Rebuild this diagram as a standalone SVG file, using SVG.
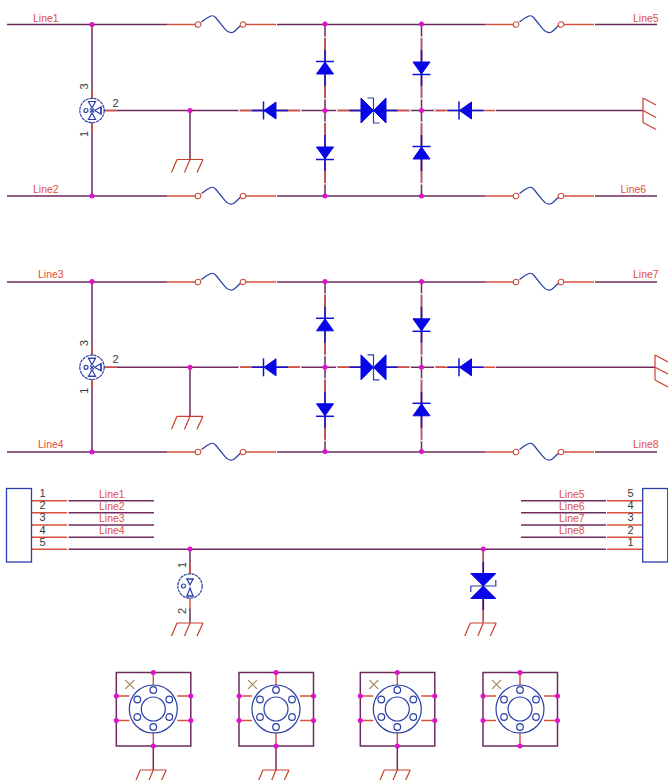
<svg xmlns="http://www.w3.org/2000/svg" xmlns:xlink="http://www.w3.org/1999/xlink" width="668" height="780" viewBox="0 0 668 780">
<style>
.w{fill:none;stroke:#6e2a5c;stroke-width:1.5}
.r{fill:none;stroke:#d8503c;stroke-width:1.4}
.b{fill:none;stroke:#2a3ea8;stroke-width:1.2}
.m{fill:#fff;stroke:#2a3ea8;stroke-width:1.2}
.bb{fill:none;stroke:#0a14d8;stroke-width:1.5}
.f{fill:#0606e6;stroke:#0606e6;stroke-width:1}
.g{fill:none;stroke:#c8402c;stroke-width:1.2}
.o{fill:#fff;stroke:#c8503c;stroke-width:1.1}
.k{fill:none;stroke:#fff;stroke-width:1.6}
.j{fill:#e010d0}
.t{font-family:"Liberation Sans",Arial,sans-serif;font-size:10.500px;fill:#e0503e}
.n{font-family:"Liberation Sans",Arial,sans-serif;font-size:11px;fill:#3a3a3a}
.x{fill:none;stroke:#a88e64;stroke-width:1.100}
</style>
<defs>
<g id="da"><path class="r" d="M0-30V30"/><path class="k" d="M0-31.500V-30M0 30V31.500"/><path class="bb" d="M0-18V18"/><path class="f" d="M-8.500 6H8.500L0-6Z"/><path class="bb" d="M-9-6.500H9"/></g>
<g id="gh"><path class="g" d="M-13 0H13M-13 0L-18.500 13M0 0L-5.500 13M13 0L7 13"/></g>
<g id="fuse"><path class="r" d="M0 0H28M79 0H109"/><circle class="o" cx="31" cy="0" r="2.800"/><circle class="o" cx="76" cy="0" r="2.800"/><path class="b" d="M34.500-2.500Q40-7 44-8.500Q46.500-9.500 49-6.500L58 4.500Q61 8.500 65 8Q67 8 73 1.500"/></g>
<g id="rail">
<path class="w" d="M7 0H167M277 0H485M595 0H657"/>
<use xlink:href="#fuse" x="167" y="0"/><use xlink:href="#fuse" x="485" y="0"/>
</g>
<g id="mov"><circle class="m" r="12.200" stroke-dasharray="3.200 .7"/><path class="b" d="M-3.500-9H3.500L0-2.500ZM-3.500 9H3.500L0 2.500ZM9-3.500V3.500L2.500 0Z"/><path class="b" d="M-4 -9H4M-4 9H4M9-4V4"/><circle class="b" cx="-6" r="2"/><path class="b" d="M-2-2L2 2M2-2L-2 2"/></g>
<g id="mov2"><circle class="m" r="12.200" stroke-dasharray="3.200 .7"/><path class="b" d="M-3-7H3L0-1ZM-3 10H3L0 2Z"/><path class="b" d="M-4-7H4M-4 10H4"/><circle class="b" cx="-6.500" r="2"/></g>
<g id="tvs"><path class="r" d="M-36 0H36"/><path class="k" d="M-37.500 0H-36M36 0H37.500"/><path class="bb" d="M-24 0H24"/><path class="f" d="M-12.500-12.500V12.500L0 0ZM12.500-12.500V12.500L0 0Z"/><path class="b" d="M-6-12.500H0V12.500H6"/></g>
<g id="core">
<path class="w" d="M104 0H445M190 0V49"/>
<path class="r" d="M104 0H117"/>
<use xlink:href="#mov" x="92" y="0"/>
<use xlink:href="#da" transform="translate(325 -42.500)"/>
<use xlink:href="#da" transform="translate(325 42.500) rotate(180)"/>
<use xlink:href="#da" transform="translate(421.500 -42.500) rotate(180)"/>
<use xlink:href="#da" transform="translate(421.500 42.500)"/>
<use xlink:href="#da" transform="translate(270 0) rotate(-90)"/>
<use xlink:href="#da" transform="translate(465.500 0) rotate(-90)"/>
<use xlink:href="#tvs" x="373.500" y="0"/>
<use xlink:href="#gh" x="190" y="49"/>
<g class="j"><circle cx="190" cy="0" r="2.500"/><circle cx="325" cy="0" r="2.500"/><circle cx="421.500" cy="0" r="2.500"/></g>
<text class="n" x="112.500" y="-4">2</text>
<text class="n" transform="translate(88 -24) rotate(-90)" text-anchor="middle">3</text>
<text class="n" transform="translate(88 23.500) rotate(-90)" text-anchor="middle">1</text>
</g>
<g id="pad">
<path class="w" d="M-37-36.500H37.500V37H-37Z"/>
<path class="r" d="M0-36.500V-24M0 23V37M-37-13H-24M24-13H37.500M-37 11.500H-24M24 11.500H37.500"/>
<circle class="b" r="24"/><circle class="b" r="12"/>
<circle class="b" cx="0" cy="-19" r="3.300"/><circle class="b" cx="0" cy="18" r="3.300"/><circle class="b" cx="-16" cy="-9.500" r="3.300"/><circle class="b" cx="16" cy="-9.500" r="3.300"/><circle class="b" cx="-16" cy="8" r="3.300"/><circle class="b" cx="16" cy="8" r="3.300"/>
<path class="x" d="M-28-29L-19-20M-19-29L-28-20"/>
<g class="j"><circle cx="0" cy="-36.500" r="2.500"/><circle cx="0" cy="37" r="2.500"/><circle cx="-37" cy="-13" r="2.500"/><circle cx="37.500" cy="-13" r="2.500"/><circle cx="-37" cy="11.500" r="2.500"/><circle cx="37.500" cy="11.500" r="2.500"/></g>
</g>
</defs>
<g id="connectors">
<path class="w" d="M68.500 500.700H154M68.500 512.700H154M68.500 525H154M68.500 537.300H154M68.500 549.300H606M190 549.300V573M190 608V623M483.300 549.300V623M521 500.700H606M521 512.700H606M521 525H606M521 537.300H606"/>
<path class="r" d="M32 500.700H67M32 512.700H67M32 525H67M32 537.300H67M32 549.300H67M607 500.700H642M607 512.700H642M607 525H642M607 537.300H642M607 549.300H642M190 562V575M190 597V608"/>
</g>
<g id="circuit-top">
<path class="w" d="M92 24.500V196M325 24.500V196M421.500 24.500V196"/>
<path class="r" d="M92 90V98M92 122V132"/>
<use xlink:href="#rail" y="24.500"/><use xlink:href="#rail" y="196"/>
<use xlink:href="#core" y="110.500"/>
<path class="w" d="M496 110.500H643"/>
<g class="j"><circle cx="92" cy="24.500" r="2.500"/><circle cx="92" cy="196" r="2.500"/><circle cx="325" cy="24" r="2.500"/><circle cx="325" cy="196" r="2.500"/><circle cx="421.500" cy="24" r="2.500"/><circle cx="421.500" cy="196" r="2.500"/></g>
<path class="g" d="M643 98V122.500M643 98L656 105M643 110.500L656 117.500M643 122.500L656 129.500"/>
</g>
<g id="circuit-mid">
<path class="w" d="M92 282V452M325 282V452M421.500 282V452"/>
<path class="r" d="M92 347V355M92 379V389"/>
<use xlink:href="#rail" y="282"/><use xlink:href="#rail" y="452"/>
<use xlink:href="#core" y="367.300"/>
<path class="w" d="M496 367.300H655"/>
<g class="j"><circle cx="92" cy="281.500" r="2.500"/><circle cx="92" cy="452" r="2.500"/><circle cx="325" cy="281.500" r="2.500"/><circle cx="325" cy="451.500" r="2.500"/><circle cx="421.500" cy="281.500" r="2.500"/><circle cx="421.500" cy="451.500" r="2.500"/></g>
<path class="g" d="M655 355V380M655 355L668 362M655 367.300L668 374M655 380L668 387"/>
</g>
<g id="labels">
<text class="t" x="33" y="21.500">Line1</text><text class="t" x="33" y="192.700">Line2</text>
<text class="t" x="633" y="21.500">Line5</text><text class="t" x="620.500" y="192.700">Line6</text>
<text class="t" x="38" y="278">Line3</text><text class="t" x="38" y="448">Line4</text>
<text class="t" x="633" y="278">Line7</text><text class="t" x="633" y="448">Line8</text>
<text class="t" x="99" y="497.500">Line1</text><text class="t" x="99" y="509.500">Line2</text><text class="t" x="99" y="521.700">Line3</text><text class="t" x="99" y="534">Line4</text>
<text class="t" x="559" y="497.500">Line5</text><text class="t" x="559" y="509.500">Line6</text><text class="t" x="559" y="521.700">Line7</text><text class="t" x="559" y="534">Line8</text>
<text class="n" x="39.500" y="497">1</text><text class="n" x="39.500" y="509">2</text><text class="n" x="39.500" y="521">3</text><text class="n" x="39.500" y="533.500">4</text><text class="n" x="39.500" y="546">5</text>
<text class="n" x="627.500" y="497">5</text><text class="n" x="627.500" y="509">4</text><text class="n" x="627.500" y="521">3</text><text class="n" x="627.500" y="533.500">2</text><text class="n" x="627.500" y="546">1</text>
<text class="n" transform="translate(186 565) rotate(-90)" text-anchor="middle">1</text>
<text class="n" transform="translate(186 611) rotate(-90)" text-anchor="middle">2</text>
</g>
<g id="J1"><rect x="6.500" y="488.500" width="25" height="73.500" fill="none" stroke="#2a3ea8" stroke-width="1.300"/></g>
<g id="J2"><rect x="642.700" y="488.500" width="25" height="73.500" fill="none" stroke="#2a3ea8" stroke-width="1.300"/></g>
<g id="MOV3"><use xlink:href="#mov2" x="190" y="586"/><use xlink:href="#gh" x="190" y="623"/><circle class="j" cx="190" cy="549" r="2.500"/></g>
<g id="TVS3"><use xlink:href="#tvs" transform="translate(483.300 586) rotate(90)"/><use xlink:href="#gh" x="483.300" y="623"/><circle class="j" cx="483.300" cy="549" r="2.500"/></g>
<g id="P1"><path class="w" d="M153.300 746V770"/><use xlink:href="#pad" x="153.300" y="709"/><use xlink:href="#gh" x="153.300" y="770"/></g>
<g id="P2"><path class="w" d="M276 746V770"/><use xlink:href="#pad" x="276" y="709"/><use xlink:href="#gh" x="276" y="770"/></g>
<g id="P3"><path class="w" d="M397.300 746V770"/><use xlink:href="#pad" x="397.300" y="709"/><use xlink:href="#gh" x="397.300" y="770"/></g>
<g id="P4"><use xlink:href="#pad" x="520" y="709"/></g>
</svg>
